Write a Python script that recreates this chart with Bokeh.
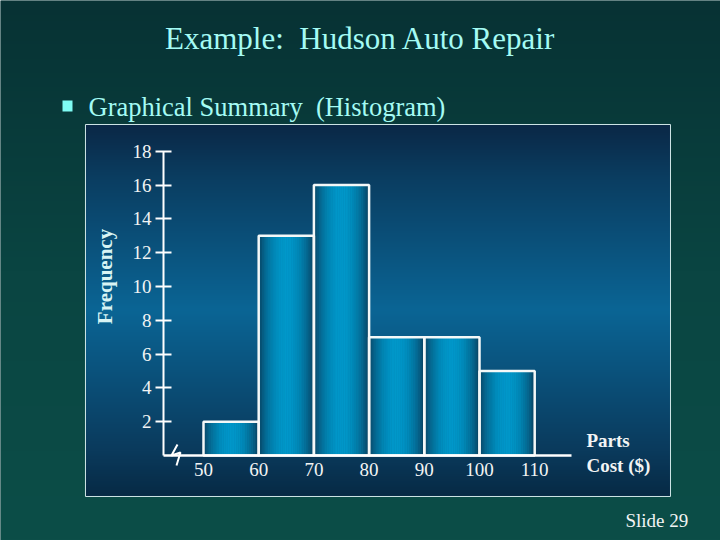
import numpy as np
from bokeh.plotting import figure
from bokeh.models import Label, BoxAnnotation, FixedTicker, LinearAxis, ColumnDataSource
from bokeh.embed import file_html
from bokeh.resources import INLINE

# ---------------- data ----------------
bin_edges = [50, 60, 70, 80, 90, 100, 110]
frequencies = [2, 13, 16, 7, 7, 5]
y_ticks = [2, 4, 6, 8, 10, 12, 14, 16, 18]
x_tick_labels = ["50", "60", "70", "80", "90", "100", "110"]

title_text = "Example:\u00a0 Hudson Auto Repair"
bullet_text = "Graphical Summary\u00a0 (Histogram)"
y_label = "Frequency"
x_label_lines = ["Parts", "Cost ($)"]
slide_text = "Slide 29"

# ---------------- layout ----------------
W, H = 720, 540
X0, X1 = 13.225, 143.66
Y0, Y1 = -5.030, 26.923
AX_X0, AX_X1 = 42.75, 116.67        # x-axis line extent
PANEL = (28.62, 134.6, -2.426, 19.586)  # left, right, bottom, top (data)
SERIF = "Liberation Serif"


def hex2rgb(h):
    h = h.lstrip("#")
    return np.array([int(h[i:i + 2], 16) for i in (0, 2, 4)], dtype=float)


def gradient_image(stops, n=300):
    """stops: list of (t, hex) with t from bottom (0) to top (1)."""
    ts = np.array([s[0] for s in stops])
    cols = np.array([hex2rgb(s[1]) for s in stops])
    t = np.linspace(0, 1, n)
    r = np.interp(t, ts, cols[:, 0])
    g = np.interp(t, ts, cols[:, 1])
    b = np.interp(t, ts, cols[:, 2])
    img = np.empty((n, 2), dtype=np.uint32)
    v = (255 << 24) | (b.astype(np.uint32) << 16) | (g.astype(np.uint32) << 8) | r.astype(np.uint32)
    img[:, 0] = v
    img[:, 1] = v
    return img


p = figure(width=W, height=H, x_range=(X0, X1), y_range=(Y0, Y1),
           output_backend="svg", toolbar_location=None, min_border=0,
           x_axis_type=None, y_axis_type=None, outline_line_color=None,
           background_fill_color="#0a3e3e", border_fill_color="#0a3e3e")

# slide background
p.image_rgba(image=[gradient_image([(0, "#0c4e48"), (0.5, "#0a4542"), (1, "#073234")])],
             x=X0, y=Y0, dw=X1 - X0, dh=Y1 - Y0)

# panel background
pl, pr, pb, pt = PANEL
p.image_rgba(image=[gradient_image([(0, "#072a45"), (0.12, "#0a3a5c"), (0.5, "#0b6595"),
                                    (0.85, "#0a3e62"), (1, "#0a2846")])],
             x=pl, y=pb, dw=pr - pl, dh=pt - pb)
p.quad(left=[pl], right=[pr], bottom=[pb], top=[pt], fill_color=None,
       line_color="#cfe6e6", line_width=1)

# bars with horizontal (cylindrical) shading
edge_c = hex2rgb("#0b3a58")
mid_c = hex2rgb("#0098ca")
n_strip = 30
L, R, T, C = [], [], [], []
for i, f in enumerate(frequencies):
    a, b = bin_edges[i], bin_edges[i + 1]
    w = (b - a) / n_strip
    for k in range(n_strip):
        u = (k + 0.5) / n_strip
        s = np.sin(np.pi * u) ** 0.7
        c = edge_c + (mid_c - edge_c) * s
        L.append(a + k * w)
        R.append(a + (k + 1) * w)
        T.append(f)
        C.append("#%02x%02x%02x" % tuple(int(round(x)) for x in c))
src = ColumnDataSource(dict(left=L, right=R, top=T, color=C))
p.quad(left="left", right="right", top="top", bottom=0, source=src,
       fill_color="color", line_color="color", line_width=0.6)
p.quad(left=bin_edges[:-1], right=bin_edges[1:], top=frequencies, bottom=0,
       fill_color=None, line_color="#f4f8f8", line_width=2.5)

# axes
yax = LinearAxis(fixed_location=AX_X0, bounds=(0, max(y_ticks)),
                 ticker=FixedTicker(ticks=y_ticks),
                 axis_line_color="white", axis_line_width=2,
                 major_tick_line_color="white", major_tick_line_width=2,
                 major_tick_in=8, major_tick_out=8,
                 minor_tick_line_color=None,
                 major_label_text_color="#f2f4f4",
                 major_label_text_font=SERIF,
                 major_label_text_font_size="19px",
                 major_label_standoff=4)
p.add_layout(yax, "left")

xax = LinearAxis(fixed_location=0, bounds=(AX_X0, AX_X1),
                 ticker=FixedTicker(ticks=bin_edges),
                 major_label_overrides={e: l for e, l in zip(bin_edges, x_tick_labels)},
                 axis_line_color="white", axis_line_width=2.5,
                 major_tick_line_color=None, major_tick_in=0, major_tick_out=0,
                 minor_tick_line_color=None,
                 major_label_text_color="#f2f4f4",
                 major_label_text_font=SERIF,
                 major_label_text_font_size="19px",
                 major_label_standoff=8)
p.add_layout(xax, "below")

# axis break mark
bx = [AX_X0 + 2.54, AX_X0 + 1.45, AX_X0 + 3.08, AX_X0 + 2.36]
by = [0.65, 0.0, 0.18, -0.59]
p.line(bx, by, line_color="white", line_width=2)


# texts
def lab(**kw):
    base = dict(x_units="screen", y_units="screen", text_font=SERIF,
                text_baseline="alphabetic")
    base.update(kw)
    p.add_layout(Label(**base))


lab(x=360, y=502, text=title_text, text_font_size="31px", text_color="#a4fbf4",
    text_align="center")
p.add_layout(BoxAnnotation(left=62, right=72, bottom=429, top=440,
                           left_units="screen", right_units="screen",
                           bottom_units="screen", top_units="screen",
                           fill_color="#7ffcf4", fill_alpha=1, line_color=None))
lab(x=88, y=434, text=bullet_text, text_font_size="26.5px", text_color="#a4fbf4")
lab(x=104, y=264, text=y_label, angle=np.pi / 2, text_font_size="21px",
    text_font_style="bold", text_color="#d8f4f4", text_align="center",
    text_baseline="middle")
lab(x=586, y=100, text=x_label_lines[0], text_font_size="19px", text_font_style="bold",
    text_color="#f2f4f4")
lab(x=586, y=75, text=x_label_lines[1], text_font_size="19px", text_font_style="bold",
    text_color="#f2f4f4")
lab(x=625, y=20, text=slide_text, text_font_size="19px", text_color="#f2f4f4")

open("out.html", "w").write(file_html(p, INLINE))
